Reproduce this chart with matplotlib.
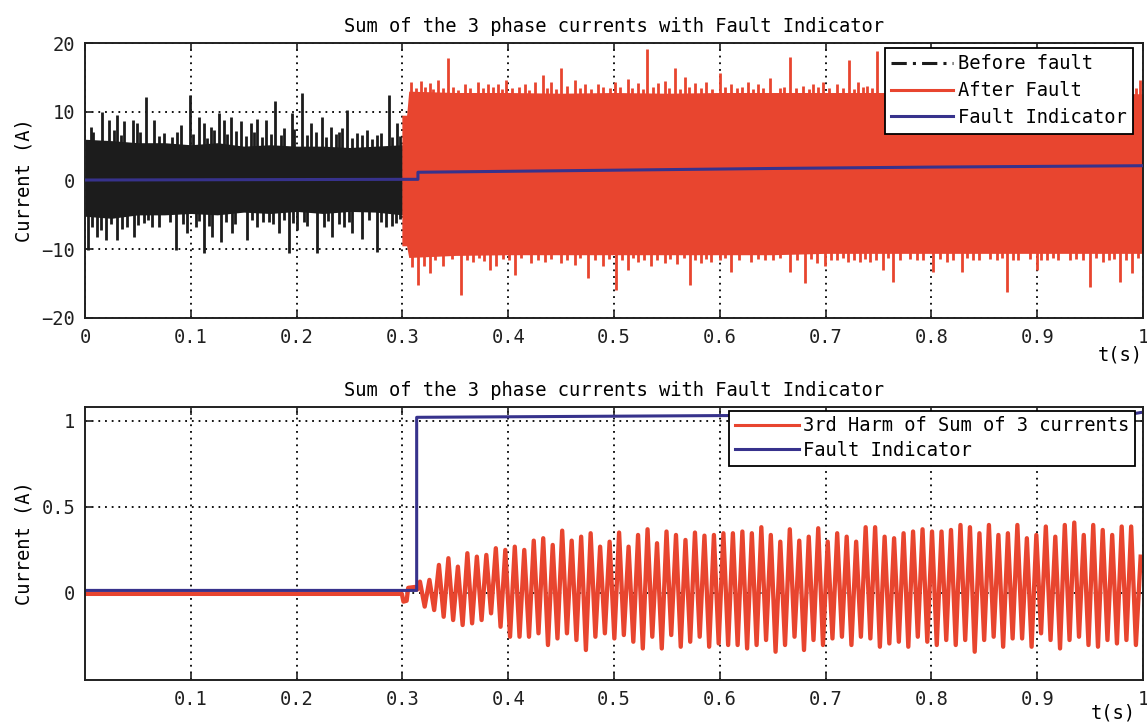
import numpy as np
import matplotlib.pyplot as plt
from matplotlib.lines import Line2D

plt.rcParams['font.family'] = 'DejaVu Sans Mono'
plt.rcParams['font.size'] = 13.5

RED = '#e8452f'
BLUE = '#37328c'
BLACK = '#1c1c1c'

# ---------------- top panel: sum of the three phase currents ----------------
# healthy part (0 - 0.3 s): solid band of the signal ...
before_env_t = [0.0, 0.025, 0.05, 0.075, 0.1, 0.125, 0.15, 0.175, 0.2, 0.225, 0.25, 0.275, 0.3]
before_env_hi = [6.0, 5.8, 5.5, 5.5, 5.2, 5.5, 5.0, 5.2, 5.0, 5.0, 4.8, 5.0, 5.2]
before_env_lo = [-5.2, -5.5, -5.0, -5.0, -4.8, -5.0, -4.6, -4.8, -4.5, -4.8, -4.5, -4.6, -5.0]
# ... and the peaks sticking out of it (time, value)
before_up = [
    (0.0054, 7.8), (0.008, 7.0), (0.0164, 10.0), (0.0227, 8.8), (0.027, 7.3), (0.0306, 9.6),
    (0.034, 6.6), (0.037, 8.6), (0.0457, 8.8), (0.0495, 8.3), (0.052, 7.0), (0.0573, 12.2),
    (0.0652, 8.8), (0.070, 6.5), (0.0747, 6.9), (0.0825, 6.4), (0.087, 7.0), (0.0904, 8.1),
    (0.0992, 12.4), (0.102, 6.8), (0.1077, 9.3), (0.1125, 8.3), (0.115, 6.2), (0.1188, 7.8),
    (0.122, 7.4), (0.1266, 9.8), (0.1314, 8.8), (0.134, 6.8), (0.1377, 9.3), (0.143, 7.2),
    (0.1471, 8.6), (0.152, 6.5), (0.1566, 8.3), (0.160, 7.0), (0.1629, 9.0), (0.167, 6.3),
    (0.1707, 8.8), (0.176, 6.8), (0.1793, 11.5), (0.185, 6.6), (0.1881, 7.6), (0.196, 9.8),
    (0.198, 7.5), (0.2054, 12.8), (0.210, 6.6), (0.2133, 8.3), (0.218, 7.0), (0.2243, 9.3),
    (0.228, 6.4), (0.2322, 7.8), (0.237, 6.8), (0.2401, 7.1), (0.243, 7.6), (0.2479, 10.2),
    (0.252, 6.2), (0.2574, 6.9), (0.262, 6.6), (0.2669, 7.3), (0.271, 6.0), (0.2763, 6.6),
    (0.280, 6.9), (0.2874, 12.4), (0.290, 6.3), (0.2952, 8.3), (0.298, 6.5),
]
before_dn = [
    (0.0028, -10.1), (0.007, -6.8), (0.0117, -8.2), (0.015, -7.2), (0.0195, -8.7), (0.025, -6.3),
    (0.0306, -8.7), (0.035, -7.0), (0.040, -6.7), (0.0463, -8.2), (0.050, -6.5), (0.0558, -6.2),
    (0.060, -5.8), (0.0636, -6.7), (0.070, -6.8), (0.080, -6.0), (0.0857, -10.1), (0.093, -6.4),
    (0.0967, -7.7), (0.1046, -6.7), (0.108, -5.9), (0.1125, -10.6), (0.117, -6.6), (0.1204, -8.2),
    (0.1282, -8.9), (0.133, -6.0), (0.1393, -7.7), (0.142, -6.3), (0.1534, -8.7), (0.158, -5.8),
    (0.1629, -6.7), (0.168, -6.1), (0.1739, -6.0), (0.178, -6.4), (0.1834, -7.7), (0.188, -5.7),
    (0.1928, -10.6), (0.197, -6.2), (0.2007, -7.2), (0.207, -6.0), (0.210, -6.6), (0.2196, -10.6),
    (0.2259, -6.7), (0.230, -5.9), (0.2338, -8.2), (0.240, -6.3), (0.2448, -6.7), (0.250, -6.0),
    (0.2527, -7.7), (0.2621, -8.5), (0.268, -5.8), (0.2757, -10.4), (0.280, -6.1), (0.2842, -6.7),
    (0.290, -6.6), (0.2936, -6.2), (0.298, -5.6),
]

# faulted part (0.3 - 1 s)
after_env_t = [0.2995, 0.304, 0.306, 0.35, 0.40, 0.45, 0.50, 0.55, 0.60, 0.65,
               0.70, 0.75, 0.80, 0.85, 0.90, 0.95, 1.0]
after_env_hi = [9.5, 9.5, 13.0, 12.8, 12.8, 12.7, 12.8, 12.7, 12.8, 12.8,
                12.8, 12.8, 12.8, 12.8, 12.8, 12.8, 12.6]
after_env_lo = [-9.5, -9.5, -11.2, -10.9, -10.8, -10.8, -10.8, -10.8, -10.8, -10.8,
                -10.6, -10.6, -10.6, -10.6, -10.6, -10.6, -10.6]
after_up = [
    (0.3084, 14.4), (0.3125, 13.4), (0.3179, 14.5), (0.321, 13.6), (0.3258, 14.2), (0.329, 13.3),
    (0.3336, 14.6), (0.338, 13.5), (0.3431, 17.8), (0.348, 13.6), (0.353, 13.2), (0.3589, 14.0),
    (0.364, 13.5), (0.3715, 14.3), (0.376, 13.4), (0.3809, 14.1), (0.386, 13.6), (0.3904, 14.0),
    (0.394, 13.3), (0.3982, 14.6), (0.404, 13.5), (0.410, 13.6), (0.4156, 14.0), (0.420, 13.2),
    (0.4250, 14.3), (0.4329, 15.3), (0.437, 13.5), (0.4408, 14.4), (0.445, 13.3), (0.4502, 16.3),
    (0.456, 13.7), (0.4628, 14.6), (0.468, 13.4), (0.4723, 14.1), (0.478, 13.3), (0.4849, 14.0),
    (0.490, 13.6), (0.496, 13.4), (0.5006, 14.3), (0.506, 13.6), (0.5132, 14.7), (0.517, 13.5),
    (0.5227, 14.2), (0.527, 13.3), (0.5315, 19.2), (0.537, 13.6), (0.5416, 14.2), (0.5479, 14.5),
    (0.552, 13.4), (0.5573, 16.3), (0.562, 13.3), (0.5668, 15.1), (0.571, 13.6), (0.5762, 14.2),
    (0.582, 13.5), (0.5873, 14.3), (0.593, 13.3), (0.5999, 15.6), (0.605, 13.6), (0.6109, 14.1),
    (0.616, 13.4), (0.621, 13.6), (0.6267, 14.4), (0.631, 13.3), (0.6361, 14.0), (0.641, 13.5),
    (0.6471, 14.9), (0.657, 13.4), (0.661, 13.6), (0.6664, 18.0), (0.672, 13.5), (0.6790, 13.8),
    (0.684, 13.3), (0.6884, 14.1), (0.693, 13.6), (0.6979, 14.4), (0.703, 13.4), (0.7105, 14.0),
    (0.716, 13.5), (0.7221, 17.5), (0.727, 13.3), (0.7309, 14.4), (0.735, 13.6), (0.7388, 13.8),
    (0.744, 13.5), (0.7483, 18.8), (0.993, 13.5), (0.9972, 14.6),
]
after_dn = [
    (0.309, -12.6), (0.3147, -15.2), (0.320, -12.4), (0.3258, -13.5), (0.331, -11.5), (0.3384, -12.5),
    (0.347, -11.4), (0.3557, -16.7), (0.361, -11.6), (0.3667, -11.8), (0.372, -11.3), (0.377, -11.7),
    (0.3825, -13.0), (0.3888, -12.5), (0.395, -11.4), (0.401, -11.6), (0.4061, -13.7), (0.412, -11.3),
    (0.4218, -12.0), (0.428, -11.5), (0.4345, -11.8), (0.440, -11.4), (0.4502, -12.0), (0.456, -11.6),
    (0.4628, -12.3), (0.468, -11.3), (0.4754, -14.2), (0.482, -11.5), (0.4896, -12.5), (0.495, -11.4),
    (0.5022, -15.9), (0.508, -11.6), (0.5132, -13.0), (0.518, -11.3), (0.5227, -11.8), (0.528, -11.5),
    (0.5350, -12.4), (0.541, -11.6), (0.5479, -12.0), (0.553, -11.4), (0.5600, -12.2), (0.566, -11.3),
    (0.5715, -15.2), (0.577, -11.6), (0.5820, -12.0), (0.587, -11.4), (0.5920, -11.8), (0.600, -11.6),
    (0.605, -11.3), (0.6109, -13.3), (0.618, -11.5), (0.6298, -11.8), (0.636, -11.4), (0.6424, -11.6),
    (0.650, -11.5), (0.657, -11.3), (0.6664, -13.3), (0.673, -11.6), (0.6805, -14.9), (0.686, -11.4),
    (0.6916, -12.0), (0.6994, -12.5), (0.705, -11.5), (0.7105, -11.6), (0.716, -11.3), (0.7215, -11.8),
    (0.727, -11.6), (0.7325, -11.8), (0.737, -11.4), (0.7420, -11.8), (0.748, -11.5), (0.7546, -13.0),
    (0.759, -11.3), (0.7640, -14.7), (0.770, -11.6), (0.780, -11.4), (0.7861, -11.6), (0.792, -11.5),
    (0.8018, -13.3), (0.808, -11.4), (0.8144, -11.8), (0.820, -11.6), (0.8286, -13.3), (0.834, -11.3),
    (0.8396, -11.6), (0.845, -11.5), (0.855, -11.4), (0.8617, -11.6), (0.867, -11.3), (0.8711, -16.2),
    (0.877, -11.6), (0.8822, -11.5), (0.893, -11.4), (0.8995, -13.0), (0.904, -11.5), (0.9089, -11.6),
    (0.915, -11.3), (0.920, -11.6), (0.9310, -11.6), (0.937, -11.4), (0.943, -11.5), (0.9499, -15.5),
    (0.956, -11.3), (0.9625, -11.8), (0.968, -11.6), (0.973, -11.4), (0.9783, -14.7), (0.984, -11.5),
    (0.9893, -13.5), (0.995, -11.3),
]

indicator_t = [0.0, 0.300, 0.3147, 0.3147, 0.50, 0.65, 0.80, 1.0]
indicator_v = [0.07, 0.17, 0.17, 1.2, 1.5, 1.75, 1.95, 2.15]

# ---------------- bottom panel: 3rd harmonic of the current sum ----------------
harm_pre_t = [0.0, 0.2995, 0.301, 0.304, 0.3055, 0.312, 0.314]
harm_pre_v = [-0.005, -0.005, -0.05, -0.045, 0.03, 0.035, 0.02]
harm_t0 = 0.3166
harm_period = 0.008963
harm_peaks = [
    0.066, 0.076, 0.163, 0.202, 0.153, 0.231, 0.211, 0.221, 0.260, 0.250, 0.269, 0.250, 0.304,
    0.318, 0.279, 0.362, 0.304, 0.327, 0.347, 0.269, 0.298, 0.351, 0.269, 0.337, 0.370,
    0.289, 0.357, 0.337, 0.308, 0.351, 0.333, 0.337, 0.347, 0.347, 0.357, 0.347, 0.382, 0.337,
    0.298, 0.370, 0.304, 0.327, 0.376, 0.298, 0.347, 0.327, 0.298, 0.382, 0.382, 0.327, 0.318,
    0.347, 0.357, 0.370, 0.357, 0.357, 0.366, 0.395, 0.382, 0.347, 0.395, 0.337, 0.347, 0.395,
    0.318, 0.337, 0.386, 0.327, 0.395, 0.409, 0.337, 0.395, 0.366, 0.337, 0.386, 0.386, 0.211,
]
harm_troughs = [
    -0.079, -0.099, -0.138, -0.157, -0.186, -0.176, -0.157, -0.118, -0.196, -0.254, -0.254,
    -0.254, -0.234, -0.302, -0.264, -0.234, -0.273, -0.331, -0.254, -0.234, -0.264, -0.244,
    -0.283, -0.322, -0.254,
    -0.322, -0.244, -0.312, -0.283, -0.254, -0.312, -0.293, -0.302, -0.302, -0.322, -0.302,
    -0.273, -0.341, -0.302, -0.254, -0.331, -0.273, -0.302, -0.264, -0.254, -0.302, -0.254,
    -0.264, -0.312, -0.293,
    -0.283, -0.312, -0.254, -0.283, -0.302, -0.273, -0.302, -0.273, -0.341, -0.273, -0.254,
    -0.312, -0.264, -0.264, -0.312, -0.234, -0.273, -0.322, -0.273, -0.254, -0.302, -0.312,
    -0.273, -0.293, -0.273, -0.302,
]

indicator2_t = [0.0, 0.3135, 0.3135, 0.60, 0.99, 1.0]
indicator2_v = [0.015, 0.015, 1.02, 1.03, 1.04, 1.05]

title = 'Sum of the 3 phase currents with Fault Indicator'
xtick_vals = [round(0.1 * i, 1) for i in range(11)]
xtick_labels = ['0', '0.1', '0.2', '0.3', '0.4', '0.5', '0.6', '0.7', '0.8', '0.9', '1']


def style_axes(ax):
    for sp in ax.spines.values():
        sp.set_linewidth(1.4)
        sp.set_color('#202020')
    ax.tick_params(direction='in', length=6, width=1.2, top=True, right=True,
                   pad=7, labelsize=13.5, colors='#202020')
    ax.grid(True, color='k', linestyle=(0, (1, 2.7)), linewidth=1.3)
    ax.set_xlim(0, 1)


fig = plt.figure(figsize=(11.47, 7.23), dpi=100)
ax1 = fig.add_axes([0.0741, 0.5602, 0.9224, 0.3803])
ax2 = fig.add_axes([0.0741, 0.0595, 0.9224, 0.3776])

# --- top ---
ax1.fill_between(before_env_t, before_env_lo, before_env_hi, color=BLACK, linewidth=0, zorder=2)
for pts in (before_up, before_dn):
    t, v = np.array(pts).T
    ax1.vlines(t, 0, v, colors=BLACK, linewidth=2.0, zorder=2)

ax1.fill_between(after_env_t, after_env_lo, after_env_hi, color=RED, linewidth=0, zorder=2)
for pts in (after_up, after_dn):
    t, v = np.array(pts).T
    ax1.vlines(t, 0, v, colors=RED, linewidth=2.0, zorder=2)

ind_line, = ax1.plot(indicator_t, indicator_v, color=BLUE, linewidth=2.2, zorder=3)

style_axes(ax1)
ax1.set_ylim(-20, 20)
ax1.set_yticks([-20, -10, 0, 10, 20])
ax1.set_xticks(xtick_vals)
ax1.set_xticklabels(xtick_labels)
ax1.set_title(title, fontsize=13.5, pad=8)
ax1.set_ylabel('Current (A)', labelpad=6)
ax1.set_xlabel('t(s)', loc='right', labelpad=-1)

handles = [
    Line2D([0], [0], color=BLACK, linewidth=2.2, linestyle=(0, (5, 2, 1, 2))),
    Line2D([0], [0], color=RED, linewidth=2.2),
    ind_line,
]
leg1 = ax1.legend(handles, ['Before fault', 'After Fault', 'Fault Indicator'],
                  loc='upper right', bbox_to_anchor=(1 - 5 / 1058, 1), borderaxespad=0.25,
                  fancybox=False, edgecolor='k', framealpha=1, handlelength=3.3,
                  handletextpad=0.25, borderpad=0.35, labelspacing=0.42)
leg1.get_frame().set_linewidth(1.3)
leg1.set_zorder(10)

# --- bottom ---
zig_v = np.empty(len(harm_peaks) + len(harm_troughs))
zig_v[0::2] = harm_peaks
zig_v[1::2] = harm_troughs
zig_t = harm_t0 + 0.5 * harm_period * np.arange(len(zig_v))
harm_t = np.concatenate([harm_pre_t, zig_t])
harm_v = np.concatenate([harm_pre_v, zig_v])

harm_line, = ax2.plot(harm_t, harm_v, color=RED, linewidth=3.1)
ind2_line, = ax2.plot(indicator2_t, indicator2_v, color=BLUE, linewidth=2.2)

style_axes(ax2)
ax2.set_ylim(-0.505, 1.08)
ax2.set_yticks([0, 0.5, 1])
ax2.set_yticklabels(['0', '0.5', '1'])
ax2.set_xticks(xtick_vals[1:])
ax2.set_xticklabels(xtick_labels[1:])
ax2.set_title(title, fontsize=13.5, pad=8)
ax2.set_ylabel('Current (A)', labelpad=6)
ax2.set_xlabel('t(s)', loc='right', labelpad=-4)
# keep the unit label clear of the last tick label
ax2.xaxis.label.set_x(0.9934)

leg2 = ax2.legend([harm_line, ind2_line], ['3rd Harm of Sum of 3 currents', 'Fault Indicator'],
                  loc='upper right', bbox_to_anchor=(1 - 4 / 1058, 1), borderaxespad=0.2,
                  fancybox=False, edgecolor='k', framealpha=1, handlelength=3.4,
                  handletextpad=0.25, borderpad=0.3, labelspacing=0.3)
leg2.get_frame().set_linewidth(1.3)
leg2.get_lines()[0].set_linewidth(2.2)
leg2.set_zorder(10)

fig.align_ylabels([ax1, ax2])
fig.savefig('out.png', dpi=100, facecolor='white')
